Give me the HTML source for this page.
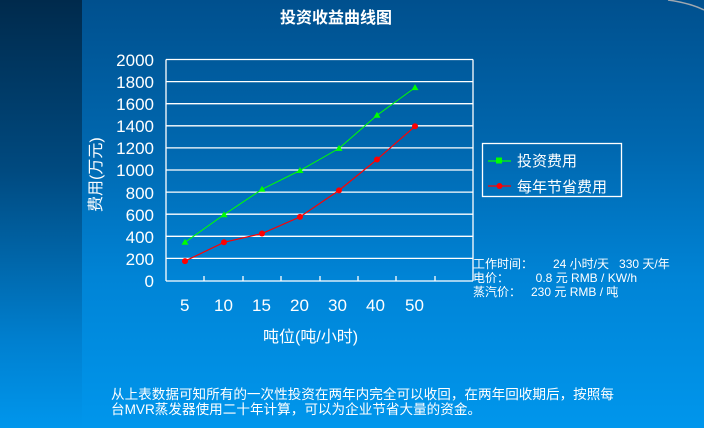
<!DOCTYPE html>
<html><head><meta charset="utf-8"><style>
html,body{margin:0;padding:0;}
body{width:704px;height:428px;overflow:hidden;position:relative;background:linear-gradient(180deg,#00508e 0%,#0068b0 35%,#0084d6 65%,#0096ec 100%);font-family:"Liberation Sans","Noto Sans CJK SC",sans-serif;color:#fff;}
.left{position:absolute;left:0;top:0;width:82px;height:428px;background:linear-gradient(180deg,#002a4c 0%,#004a80 40%,#0080d0 80%,#0096ec 100%);}
.t{position:absolute;white-space:nowrap;}
</style></head><body>
<div class="left"></div>
<svg width="704" height="428" style="position:absolute;left:0;top:0">
<path d="M668 0 Q690 3 704 10" stroke="#a0a8b0" stroke-width="1.5" fill="none"/>
<g stroke="#fff" stroke-width="1.3" fill="none">
<line x1="166" y1="59.5" x2="473" y2="59.5"/>
<line x1="166" y1="81.6" x2="473" y2="81.6"/>
<line x1="166" y1="103.7" x2="473" y2="103.7"/>
<line x1="166" y1="125.8" x2="473" y2="125.8"/>
<line x1="166" y1="147.9" x2="473" y2="147.9"/>
<line x1="166" y1="170" x2="473" y2="170"/>
<line x1="166" y1="192.1" x2="473" y2="192.1"/>
<line x1="166" y1="214.2" x2="473" y2="214.2"/>
<line x1="166" y1="236.3" x2="473" y2="236.3"/>
<line x1="166" y1="258.4" x2="473" y2="258.4"/>
<line x1="166" y1="281" x2="473" y2="281"/>
<line x1="166" y1="59.5" x2="166" y2="281"/>
<line x1="473" y1="59.5" x2="473" y2="281"/>
<path d="M204 276V281M243 276V281M281 276V281M320 276V281M358 276V281M396 276V281M435 276V281"/>
</g>
<polyline points="185,242.3 224,214.7 262,189.3 300,170.5 339,148.4 377,115.3 415,87.6" stroke="#00ff00" stroke-width="1" fill="none"/>
<g fill="#00ff00">
<path d="M185 238.8l3.5 6h-7z"/><path d="M224 211.2l3.5 6h-7z"/><path d="M262 185.8l3.5 6h-7z"/><path d="M300 167l3.5 6h-7z"/><path d="M339 144.9l3.5 6h-7z"/><path d="M377 111.8l3.5 6h-7z"/><path d="M415 84.1l3.5 6h-7z"/>
</g>
<polyline points="185,261.1 224,242.3 262,233.5 300,216.9 339,190.4 377,159.5 415,126.3" stroke="#ff0000" stroke-width="1.2" fill="none"/>
<g fill="#ff0000">
<circle cx="185" cy="261.1" r="3"/><circle cx="224" cy="242.3" r="3"/><circle cx="262" cy="233.5" r="3"/><circle cx="300" cy="216.9" r="3"/><circle cx="339" cy="190.4" r="3"/><circle cx="377" cy="159.5" r="3"/><circle cx="415" cy="126.3" r="3"/>
</g>
<rect x="482.5" y="143.5" width="139" height="53" stroke="#fff" stroke-width="1.3" fill="none"/>
<line x1="488" y1="161" x2="511" y2="161" stroke="#00ff00" stroke-width="1.3"/>
<rect x="496" y="157.5" width="6" height="6" fill="#00ff00"/>
<line x1="488" y1="186" x2="511" y2="186" stroke="#ff0000" stroke-width="1.3"/>
<circle cx="499.5" cy="186" r="3" fill="#ff0000"/>
</svg>
<div class="t" style="left:280px;top:4px;font-size:16px;font-weight:bold;">投资收益曲线图</div>
<div class="t" style="left:100px;top:50px;width:54px;text-align:right;font-size:17px;line-height:22.1px;">2000<br>1800<br>1600<br>1400<br>1200<br>1000<br>800<br>600<br>400<br>200<br>0</div>
<div class="t" style="left:92px;top:170px;font-size:16px;transform:rotate(-90deg);width:0;height:0;"><span style="position:absolute;left:-42px;top:-10px;">费用(万元)</span></div>
<div class="t" style="top:296px;font-size:17px;left:0;">
<span style="position:absolute;left:180px">5</span><span style="position:absolute;left:214px">10</span><span style="position:absolute;left:252px">15</span><span style="position:absolute;left:290px">20</span><span style="position:absolute;left:328px">30</span><span style="position:absolute;left:366px">40</span><span style="position:absolute;left:405px">50</span></div>
<div class="t" style="left:263px;top:323px;font-size:16px;">吨位(吨/小时)</div>
<div class="t" style="left:517px;top:150px;font-size:15px;">投资费用</div>
<div class="t" style="left:517px;top:176px;font-size:15px;">每年节省费用</div>
<div class="t" style="left:473px;top:257px;font-size:12px;line-height:14px;">工作时间：&nbsp;&nbsp;&nbsp;&nbsp;&nbsp; 24 小时/天&nbsp;&nbsp; 330 天/年<br>电价：&nbsp;&nbsp;&nbsp;&nbsp;&nbsp;&nbsp;&nbsp; 0.8 元 RMB / KW/h<br>蒸汽价：&nbsp;&nbsp; 230 元 RMB / 吨</div>
<div class="t" style="left:111px;top:387px;font-size:13.6px;line-height:15px;">从上表数据可知所有的一次性投资在两年内完全可以收回，在两年回收期后，按照每<br>台MVR蒸发器使用二十年计算，可以为企业节省大量的资金。</div>
</body></html>
